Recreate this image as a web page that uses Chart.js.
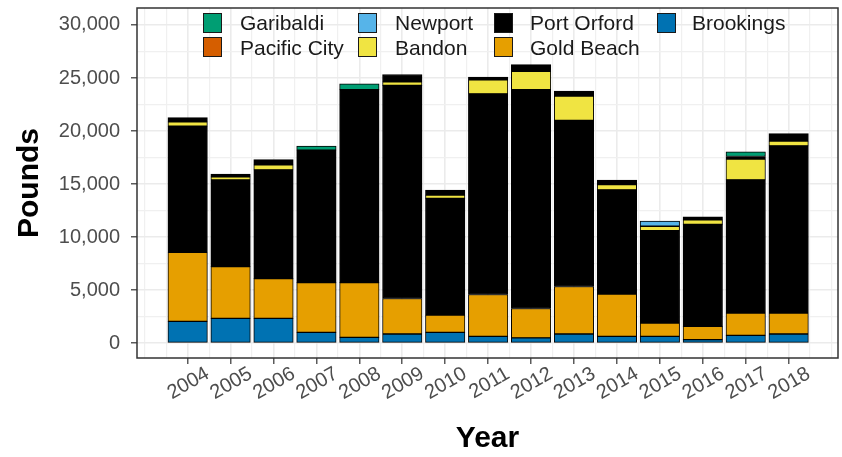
<!DOCTYPE html>
<html>
<head>
<meta charset="utf-8">
<title>Pounds by year and port</title>
<script src="https://cdn.jsdelivr.net/npm/chart.js@4.4.1/dist/chart.umd.min.js"></script>
<style>
  html, body { margin: 0; padding: 0; background: #fff; }
  #wrap { position: relative; width: 842px; height: 457px; }
  #chart { position: absolute; left: 0; top: 0; }
  #legend {
    position: absolute; left: 0; top: 0; width: 842px; height: 62px;
    pointer-events: none;
    font-family: "Liberation Sans", Arial, sans-serif; font-size: 21px; color: #1a1a1a;
  }
  .lg-key { position: absolute; width: 17px; height: 18px; border: 1.5px solid #1a1a1a; }
  .lg-text { position: absolute; line-height: 21px; white-space: nowrap; }
</style>
</head>
<body>
<div id="wrap">
  <canvas id="chart" width="842" height="457"></canvas>
  <div id="legend"></div>
</div>
<script>
/* ---- data (pounds landed) ---- */
var years = [2004, 2005, 2006, 2007, 2008, 2009, 2010, 2011, 2012, 2013, 2014, 2015, 2016, 2017, 2018];

var brookings       = [2050, 2330, 2330, 1020,   550,   860,  1020,   640,   490,   860,  640,  640,  330,   740,   860];
var goldBeach       = [6520, 4890, 3760, 4690,  5160,  3350,  1630,  3950,  2780,  4480, 3980, 1260, 1250,  2100,  1980];
var portOrford      = [11880, 8160, 10240, 12490, 18190, 20090, 11000, 18910, 20630, 15660, 9830, 8700, 9620, 12560, 15760];
var bandon          = [420,   300,  480,     0,     0,   350,   300,  1330,  1720,  2300,  500,  420,  420,  1950,   450];
/* black band sitting above the Bandon sliver in several years */
var portOrfordUpper = [400,   250,  500,     0,     0,   680,   480,   250,   640,   460,  420,    0,  300,   250,   710];
var newport         = [0, 0, 0, 0, 0, 0, 0, 0, 0, 0, 0, 500, 0, 0, 0];
var pacificCity     = [0, 0, 0, 0, 0, 0, 0, 0, 0, 0, 0, 0, 0, 0, 0];
var garibaldi       = [0, 0, 0, 390, 550, 0, 0, 0, 0, 0, 0, 0, 0, 430, 0];

var yTicks = [0, 5000, 10000, 15000, 20000, 25000, 30000];

/* stacking order, bottom to top */
var series = [
  { label: "Brookings",    data: brookings,       color: "#0072B2" },
  { label: "Gold Beach",   data: goldBeach,       color: "#E69F00" },
  { label: "Port Orford",  data: portOrford,      color: "#000000" },
  { label: "Bandon",       data: bandon,          color: "#F0E442" },
  { label: "Port Orford",  data: portOrfordUpper, color: "#000000", extra: true },
  { label: "Newport",      data: newport,         color: "#56B4E9" },
  { label: "Pacific City", data: pacificCity,     color: "#D55E00" },
  { label: "Garibaldi",    data: garibaldi,       color: "#009E73" }
];

/* legend reads column by column, 2 rows */
var legendOrder = ["Garibaldi", "Pacific City", "Newport", "Bandon", "Port Orford", "Gold Beach", "Brookings"];

var FONT = "'Liberation Sans', Arial, sans-serif";
var TICK_GREY = "#4d4d4d";

function tickVal(c) { return c && c.tick ? c.tick.value : NaN; }
function isMajorX(v) { return Number.isInteger(v) && v >= years[0] && v <= years[years.length - 1]; }
function isMajorY(v) { return yTicks.indexOf(v) !== -1; }

/* panel border, like the ggplot box */
var panelBorder = {
  id: "panelBorder",
  afterDatasetsDraw: function (chart) {
    var a = chart.chartArea, ctx = chart.ctx;
    ctx.save();
    ctx.strokeStyle = "#333333";
    ctx.lineWidth = 1.5;
    ctx.strokeRect(a.left, a.top, a.right - a.left, a.bottom - a.top);
    ctx.restore();
  }
};

var datasets = series.map(function (s) {
  return {
    label: s.label,
    data: s.data,
    backgroundColor: s.color,
    borderColor: "#000000",
    borderWidth: 1,
    borderSkipped: false,
    grouped: false,
    barThickness: 39.5
  };
});

new Chart(document.getElementById("chart"), {
  type: "bar",
  data: { labels: years, datasets: datasets },
  plugins: [panelBorder],
  options: {
    responsive: false,
    animation: false,
    devicePixelRatio: 1,
    layout: { padding: { top: 8, right: 4, left: 0, bottom: 0 } },
    plugins: { legend: { display: false }, tooltip: { enabled: false } },
    scales: {
      x: {
        type: "linear",
        offset: false,
        min: 2002.82,
        max: 2019.15,
        afterBuildTicks: function (axis) {
          var t = [];
          for (var v = 2003; v <= 2019; v += 0.5) t.push({ value: v });
          axis.ticks = t;
        },
        afterFit: function (axis) { axis.height = 99; axis.paddingLeft = 0; axis.paddingRight = 0; },
        border: { display: false },
        grid: {
          offset: false,
          color: function (c) { return isMajorX(tickVal(c)) ? "#ebebeb" : "#f0f0f0"; },
          lineWidth: function (c) { return isMajorX(tickVal(c)) ? 1.6 : 1.2; },
          tickColor: function (c) { return isMajorX(tickVal(c)) ? "#333333" : "rgba(0,0,0,0)"; },
          tickLength: 6,
          tickWidth: 1.2
        },
        ticks: {
          autoSkip: false,
          maxRotation: 30,
          minRotation: 30,
          padding: -2,
          labelOffset: 20,
          color: TICK_GREY,
          font: { family: FONT, size: 20 },
          callback: function (v) { return isMajorX(v) ? String(v) : ""; }
        },
        title: {
          display: true,
          text: "Year",
          color: "#000",
          font: { family: FONT, size: 30, weight: "bold" },
          padding: { top: 0, bottom: 0 }
        }
      },
      y: {
        stacked: true,
        min: -1400,
        max: 31600,
        afterBuildTicks: function (axis) {
          var t = [];
          for (var v = 0; v <= 30000; v += 2500) t.push({ value: v });
          axis.ticks = t;
        },
        afterFit: function (axis) { axis.width = 137; axis.paddingTop = 0; axis.paddingBottom = 0; },
        border: { display: false },
        grid: {
          color: function (c) { return isMajorY(tickVal(c)) ? "#ebebeb" : "#f0f0f0"; },
          lineWidth: function (c) { return isMajorY(tickVal(c)) ? 1.6 : 1.2; },
          tickColor: function (c) { return isMajorY(tickVal(c)) ? "#333333" : "rgba(0,0,0,0)"; },
          tickLength: 6,
          tickWidth: 1.2
        },
        ticks: {
          padding: 11,
          color: TICK_GREY,
          font: { family: FONT, size: 20 },
          callback: function (v) { return isMajorY(v) ? v.toLocaleString("en-US") : ""; }
        },
        title: {
          display: true,
          text: "Pounds",
          color: "#000",
          font: { family: FONT, size: 30, weight: "bold" },
          padding: { top: 12, bottom: 0 }
        }
      }
    }
  }
});

/* legend, drawn as html over the panel */
(function () {
  var keyLeft = [203, 358, 494, 657];
  var textLeft = [240, 395, 530, 692];
  var rowTop = [12.5, 37];
  var box = document.getElementById("legend");
  var html = "";
  legendOrder.forEach(function (name, i) {
    var s = series.filter(function (d) { return d.label === name && !d.extra; })[0];
    var col = Math.floor(i / 2), row = i % 2;
    html += '<div class="lg-key" style="left:' + keyLeft[col] + 'px; top:' + rowTop[row] + 'px; background:' + s.color + ';"></div>';
    html += '<div class="lg-text" style="left:' + textLeft[col] + 'px; top:' + (rowTop[row] - 0.5) + 'px;">' + name + "</div>";
  });
  box.innerHTML = html;
})();
</script>
</body>
</html>
